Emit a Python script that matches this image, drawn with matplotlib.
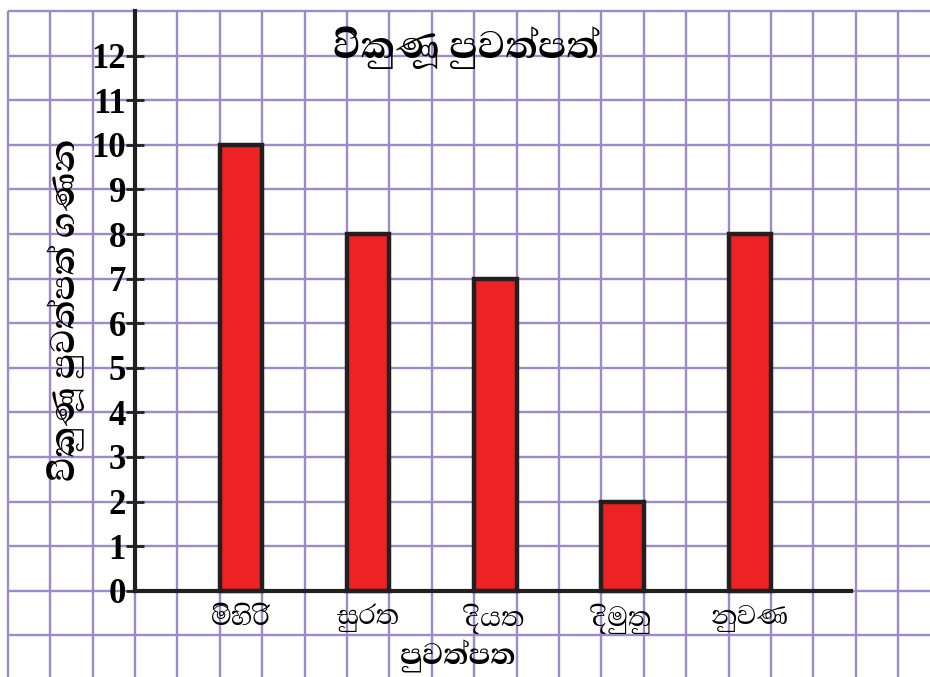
import matplotlib
matplotlib.use("Agg")
import matplotlib.pyplot as plt
import numpy as np

# Data
papers = ["මිහිරි", "සුරත", "දියත", "දිමුතු", "නුවණ"]
sold = [10, 8, 7, 2, 8]
y_ticks = list(range(0, 13))

title = "විකුණූ පුවත්පත්"
x_label = "පුවත්පත"
y_label = "විකුණූ පුවත්පත් ගණන"

GRID = "#9d8ac6"
RED = "#ec2224"
DARK = "#231f20"
SINHALA = ["Abhaya Libre", "Noto Serif Sinhala", "Noto Sans Sinhala", "DejaVu Sans"]

fig = plt.figure(figsize=(9.30, 6.77), dpi=100)
ax = fig.add_axes([0, 0, 1, 1])

# axis limits chosen so one grid cell = one unit
x0, x1 = -135 / 42.4, (930 - 135) / 42.4
y0, y1 = -(677 - 590.7) / 44.58, 590.7 / 44.58
ax.set_xlim(x0, x1)
ax.set_ylim(y0, y1)

# graph paper background
ax.vlines(np.arange(-3, 19), y0, 13, color=GRID, linewidth=1.7, zorder=0)
ax.hlines(np.arange(-1, 14), -3, x1, color=GRID, linewidth=1.7, zorder=0)

# bars, one per paper, every third cell
pos = [2.5 + 3 * i for i in range(len(papers))]
ax.bar(pos, sold, width=1.0, color=RED, edgecolor=DARK, linewidth=3.2, zorder=3)

# axes through the origin
for side in ["top", "right"]:
    ax.spines[side].set_visible(False)
ax.spines["left"].set_position(("data", 0))
ax.spines["bottom"].set_position(("data", 0))
ax.spines["left"].set_bounds(0, 13)
ax.spines["bottom"].set_bounds(0, 16.88)
for side in ["left", "bottom"]:
    ax.spines[side].set_linewidth(3)
    ax.spines[side].set_color(DARK)
    ax.spines[side].set_zorder(4)

ax.set_yticks(y_ticks)
ax.set_yticklabels([str(v) for v in y_ticks], fontfamily="Liberation Serif",
                   fontweight="bold", fontsize=25)
ax.tick_params(axis="y", direction="inout", length=13, width=2, color=DARK, pad=0)

ax.set_xticks(pos)
ax.set_xticklabels(papers, fontsize=25, family=SINHALA)
ax.tick_params(axis="x", length=0, pad=9)

fig.text(466 / 930, 1 - 48 / 677, title, ha="center", va="center",
         fontsize=35, fontweight="bold", family=SINHALA)
fig.text(458 / 930, 1 - 656 / 677, x_label, ha="center", va="center",
         fontsize=27, fontweight="bold", family=SINHALA)
fig.text(66 / 930, 1 - 310 / 677, y_label, ha="center", va="center",
         rotation=90, fontsize=31, fontweight="bold", family=SINHALA)

fig.savefig("out.png", dpi=100)
